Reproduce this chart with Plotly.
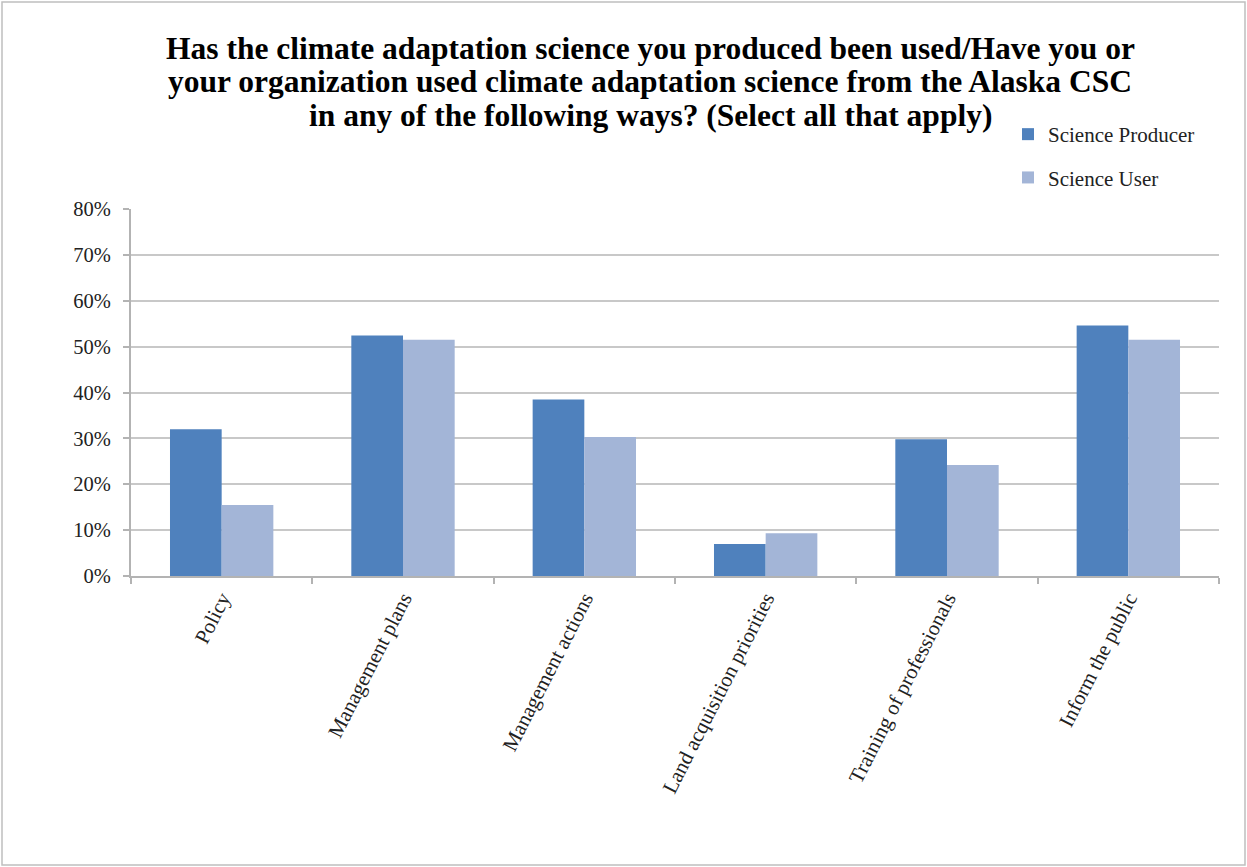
import plotly.graph_objects as go

categories = ["Policy", "Management plans", "Management actions",
              "Land acquisition priorities", "Training of professionals",
              "Inform the public"]
producer = [0.320, 0.524, 0.385, 0.070, 0.298, 0.546]
user = [0.155, 0.515, 0.303, 0.093, 0.242, 0.515]
y_ticks = [0, 0.1, 0.2, 0.3, 0.4, 0.5, 0.6, 0.7, 0.8]
y_tick_labels = ["0%", "10%", "20%", "30%", "40%", "50%", "60%", "70%", "80%"]

W, H = 1247, 867
ML, MR, MT, MB = 131, 28, 209, 291
PW, PH = W - ML - MR, H - MT - MB

FONT = "Liberation Serif"

fig = go.Figure()
fig.add_trace(go.Bar(x=categories, y=producer, name="Science Producer",
                     marker=dict(color="#4F81BD", line=dict(width=0)),
                     legendgroup="p"))
fig.add_trace(go.Bar(x=categories, y=user, name="Science User",
                     marker=dict(color="#A3B5D7", line=dict(width=0)),
                     legendgroup="u"))

title_lines = [
    "Has the climate adaptation science you produced been used/Have you or",
    "your organization used climate adaptation science from the Alaska CSC",
    "in any of the following ways? (Select all that apply)",
]
title_y = [48, 82, 116]
for txt, yy in zip(title_lines, title_y):
    fig.add_annotation(text="<b>%s</b>" % txt, xref="paper", yref="paper",
                       x=(650 - ML) / PW, y=1 - (yy - MT) / PH,
                       xanchor="center", yanchor="middle", showarrow=False,
                       font=dict(family=FONT, size=31.5, color="#000000"))

# outer chart frame
fig.add_shape(type="rect", xref="paper", yref="paper",
              x0=(2 - ML) / PW, x1=(W - 2 - ML) / PW,
              y0=1 - (H - 2 - MT) / PH, y1=1 - (2 - MT) / PH,
              line=dict(color="#BFBFBF", width=1.5), layer="below")

fig.update_layout(
    width=W, height=H,
    margin=dict(l=ML, r=MR, t=MT, b=MB, autoexpand=False),
    paper_bgcolor="white", plot_bgcolor="white",
    barmode="group", bargap=0.43, bargroupgap=0,
    font=dict(family=FONT, size=21, color="#000000"),
    showlegend=True,
    legend=dict(x=(1008 - ML) / PW, y=1 - (114 - MT) / PH,
                xanchor="left", yanchor="top",
                font=dict(family=FONT, size=21, color="#222222"),
                tracegroupgap=13, bgcolor="rgba(0,0,0,0)",
                itemwidth=30),
    xaxis=dict(type="category", tickangle=-63, tickson="boundaries",
               ticks="outside", ticklen=6, tickcolor="#B3B3B3", tickwidth=2,
               showline=True, linecolor="#B3B3B3", linewidth=2,
               showgrid=False, tickfont=dict(family=FONT, size=21, color="#222222")),
    yaxis=dict(range=[0, 0.8], tickvals=y_ticks, ticktext=y_tick_labels,
               ticks="outside", ticklen=6, tickcolor="#B3B3B3", tickwidth=2,
               ticklabelstandoff=8,
               showline=True, linecolor="#B3B3B3", linewidth=2,
               showgrid=True, gridcolor="#C8C8C8", gridwidth=2,
               zeroline=False, tickfont=dict(family=FONT, size=20.5, color="#222222")),
)

fig.write_html("out.html")
